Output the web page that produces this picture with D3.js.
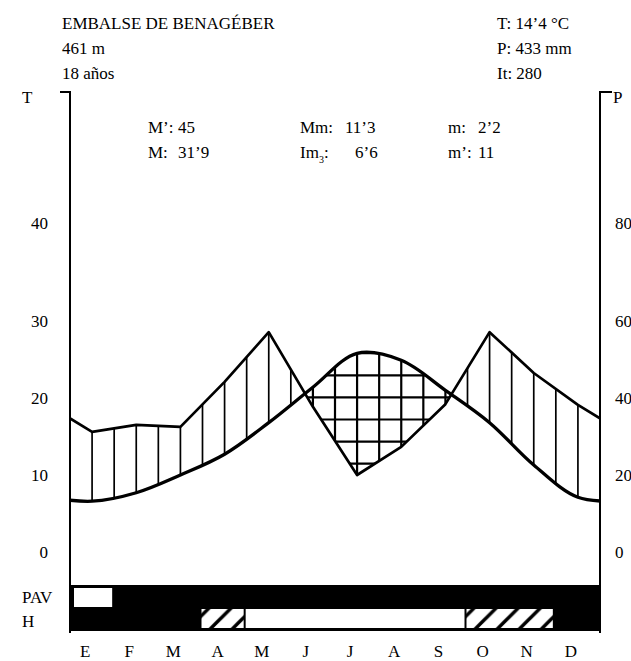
<!DOCTYPE html>
<html>
<head>
<meta charset="utf-8">
<script src="https://cdn.jsdelivr.net/npm/d3@7"></script>
<style>
  html, body { margin: 0; padding: 0; background: #fff; }
  text { font-family: "Liberation Serif", "Times New Roman", serif; fill: #000; }
</style>
</head>
<body>
<div id="chart"></div>
<script>
// ---- data ----
const months = ["E","F","M","A","M","J","J","A","S","O","N","D"];
const temp   = [6.6, 7.7, 10.0, 12.7, 16.8, 21.4, 25.8, 24.9, 21.0, 16.8, 11.3, 7.1];   // °C
const precip = [31.2, 33.0, 32.5, 44.2, 57.1, 37.7, 20.0, 27.3, 38.4, 57.1, 46.5, 38.2]; // mm
const tTicks = [0, 10, 20, 30, 40];
const pTicks = [0, 20, 40, 60, 80];
// PAV row: w = white, b = black ; H row: w = white, h = hatched, b = black
const pavRow = ["w","b","b","b","b","b","b","b","b","b","b","b"];
const hRow   = ["b","b","b","h","w","w","w","w","w","h","h","b"];
const headerLeft  = ["EMBALSE DE BENAGÉBER", "461 m", "18 años"];
const headerRight = ["T: 14’4 °C", "P: 433 mm", "It: 280"];
const stats = [
  {label: "M’:", value: "45"},  {label: "Mm:", value: "11’3"}, {label: "m:", value: "2’2"},
  {label: "M:", value: "31’9"}, {label: "Im", sub: "3", value: "6’6"}, {label: "m’:", value: "11"}
];

const W = 631, H = 661;
const svg = d3.select("#chart").append("svg").attr("width", W).attr("height", H);

// ---- scales ----
const x  = d3.scaleLinear().domain([-0.5, 11.5]).range([70, 600]);
const yT = d3.scaleLinear().domain([0, 30, 40]).range([552, 321, 223]);
const yP = d3.scaleLinear().domain([0, 60, 80]).range([552, 321, 223]);

// extended (cyclic) series so the lines reach both axes
const ext = [{i: -1, t: temp[11], p: precip[11]}]
  .concat(months.map((m, i) => ({i, t: temp[i], p: precip[i]})))
  .concat([{i: 12, t: temp[0], p: precip[0]}]);

const tCurve = d3.curveCatmullRom.alpha(0.5);
const defs = svg.append("defs");

defs.append("clipPath").attr("id", "plot").append("rect")
  .attr("x", x(-0.5)).attr("y", 0).attr("width", x(11.5) - x(-0.5)).attr("height", H);

const clipArea = (id, gen) => defs.append("clipPath").attr("id", id).append("path").attr("d", gen(ext));
clipArea("aboveT", d3.area().x(d => x(d.i)).y0(0).y1(d => yT(d.t)).curve(tCurve));
clipArea("belowT", d3.area().x(d => x(d.i)).y0(d => yT(d.t)).y1(H).curve(tCurve));
clipArea("aboveP", d3.area().x(d => x(d.i)).y0(0).y1(d => yP(d.p)));
clipArea("belowP", d3.area().x(d => x(d.i)).y0(d => yP(d.p)).y1(H));

// diagonal hatch for H row
const step = x(0.5) - x(0);
const pat = defs.append("pattern").attr("id", "diag")
  .attr("patternUnits", "userSpaceOnUse").attr("width", step).attr("height", step);
pat.append("rect").attr("width", step).attr("height", step).attr("fill", "#fff");
pat.append("path")
  .attr("d", `M${-step/4},${step/4} L${step/4},${-step/4} M0,${step} L${step},0 M${step*0.75},${step*1.25} L${step*1.25},${step*0.75}`)
  .attr("stroke", "#000").attr("stroke-width", 3.5);

const halfMonths = d3.range(-0.5, 11.75, 0.5);
const plot = svg.append("g").attr("clip-path", "url(#plot)");

// humid: vertical hatching
const humid = plot.append("g").attr("clip-path", "url(#aboveT)")
  .append("g").attr("clip-path", "url(#belowP)");
humid.selectAll("line").data(halfMonths).join("line")
  .attr("x1", d => x(d)).attr("x2", d => x(d)).attr("y1", 80).attr("y2", 580)
  .attr("stroke", "#000").attr("stroke-width", 1.7);

// arid: grid
const arid = plot.append("g").attr("clip-path", "url(#belowT)")
  .append("g").attr("clip-path", "url(#aboveP)");
arid.selectAll("line.v").data(halfMonths).join("line").attr("class", "v")
  .attr("x1", d => x(d)).attr("x2", d => x(d)).attr("y1", 80).attr("y2", 580)
  .attr("stroke", "#000").attr("stroke-width", 2.2);
arid.selectAll("line.h").data(d3.range(yT(0), 80, -step)).join("line").attr("class", "h")
  .attr("x1", x(-0.5)).attr("x2", x(11.5)).attr("y1", d => d).attr("y2", d => d)
  .attr("stroke", "#000").attr("stroke-width", 2.2);

// curves
plot.append("path").attr("d", d3.line().x(d => x(d.i)).y(d => yP(d.p))(ext))
  .attr("fill", "none").attr("stroke", "#000").attr("stroke-width", 2.7).attr("stroke-linejoin", "round");
plot.append("path").attr("d", d3.line().x(d => x(d.i)).y(d => yT(d.t)).curve(tCurve)(ext))
  .attr("fill", "none").attr("stroke", "#000").attr("stroke-width", 3.3).attr("stroke-linejoin", "round");

// axes
const axTop = 92, axBot = 633;
svg.append("path").attr("d", `M${x(-0.5) - 10},${axTop} H${x(-0.5)} V${axBot}`)
  .attr("fill", "none").attr("stroke", "#000").attr("stroke-width", 2);
svg.append("path").attr("d", `M${x(11.5) + 12},${axTop} H${x(11.5)} V${axBot}`)
  .attr("fill", "none").attr("stroke", "#000").attr("stroke-width", 2);

svg.selectAll("text.tl").data(tTicks).join("text").attr("class", "tl")
  .attr("x", 48).attr("y", d => yT(d)).attr("dy", "0.35em").attr("text-anchor", "end")
  .attr("font-size", 17).text(d => d);
svg.selectAll("text.pl").data(pTicks).join("text").attr("class", "pl")
  .attr("x", 615).attr("y", d => yP(d)).attr("dy", "0.35em").attr("text-anchor", "start")
  .attr("font-size", 17).text(d => d);
svg.append("text").attr("x", 22).attr("y", 103).attr("font-size", 17).text("T");
svg.append("text").attr("x", 613).attr("y", 103).attr("font-size", 17).text("P");

// bottom bars
const barTop = 585, rowMid = 607, barBot = 631;
svg.append("rect").attr("x", x(-0.5)).attr("y", barTop)
  .attr("width", x(11.5) - x(-0.5) + 1).attr("height", barBot - barTop).attr("fill", "#000");

function runs(row) {
  const out = [];
  row.forEach((v, i) => {
    if (out.length && out[out.length - 1].v === v) out[out.length - 1].end = i;
    else out.push({v, start: i, end: i});
  });
  return out;
}
runs(pavRow).filter(r => r.v === "w").forEach(r => {
  svg.append("rect").attr("x", x(r.start - 0.5) + 4).attr("y", barTop + 3)
    .attr("width", x(r.end + 0.5) - x(r.start - 0.5) - 6).attr("height", rowMid - barTop - 3)
    .attr("fill", "#fff");
});
runs(hRow).filter(r => r.v !== "b").forEach(r => {
  svg.append("rect").attr("x", x(r.start - 0.5) - 1).attr("y", rowMid + 2)
    .attr("width", x(r.end + 0.5) - x(r.start - 0.5) - 2).attr("height", barBot - rowMid - 5)
    .attr("fill", r.v === "w" ? "#fff" : "url(#diag)");
});

svg.append("text").attr("x", 22).attr("y", 603).attr("font-size", 17).text("PAV");
svg.append("text").attr("x", 22).attr("y", 627).attr("font-size", 17).text("H");

svg.selectAll("text.month").data(months).join("text").attr("class", "month")
  .attr("x", (d, i) => x(i) - 7).attr("y", 657).attr("text-anchor", "middle")
  .attr("font-size", 17).text(d => d);

// header
headerLeft.forEach((t, k) => svg.append("text").attr("x", 62).attr("y", 29 + k * 25).attr("font-size", 17).text(t));
headerRight.forEach((t, k) => svg.append("text").attr("x", 497).attr("y", 29 + k * 25).attr("font-size", 17).text(t));

// stats block
const statCols = [148, 300, 448];
const valOffsets = [[30, 45, 30], [30, 55, 30]];
stats.forEach((s, k) => {
  const col = k % 3, row = Math.floor(k / 3);
  const y0 = 133 + row * 25;
  const t = svg.append("text").attr("x", statCols[col]).attr("y", y0).attr("font-size", 17);
  t.append("tspan").text(s.label);
  if (s.sub) {
    t.append("tspan").attr("font-size", 10).attr("dy", 5).text(s.sub);
    t.append("tspan").attr("dy", -5).text(":");
  }
  svg.append("text").attr("x", statCols[col] + valOffsets[row][col]).attr("y", y0)
    .attr("font-size", 17).text(s.value);
});
</script>
</body>
</html>
